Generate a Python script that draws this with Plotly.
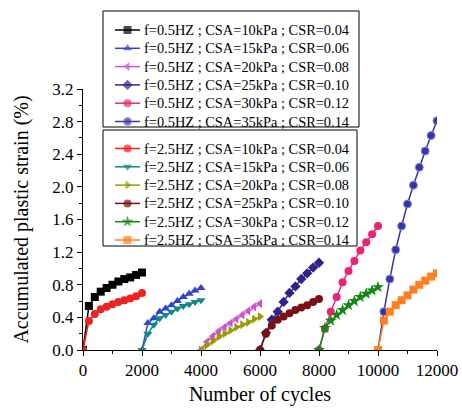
import plotly.graph_objects as go

# ---- data ----
cycle_steps = [0, 200, 400, 600, 800, 1000, 1200, 1400, 1600, 1800, 2000]
start_cycles = [0, 2000, 4000, 6000, 8000, 10000]

names_05 = [
    "f=0.5HZ ; CSA=10kPa ; CSR=0.04",
    "f=0.5HZ ; CSA=15kPa ; CSR=0.06",
    "f=0.5HZ ; CSA=20kPa ; CSR=0.08",
    "f=0.5HZ ; CSA=25kPa ; CSR=0.10",
    "f=0.5HZ ; CSA=30kPa ; CSR=0.12",
    "f=0.5HZ ; CSA=35kPa ; CSR=0.14",
]
names_25 = [
    "f=2.5HZ ; CSA=10kPa ; CSR=0.04",
    "f=2.5HZ ; CSA=15kPa ; CSR=0.06",
    "f=2.5HZ ; CSA=20kPa ; CSR=0.08",
    "f=2.5HZ ; CSA=25kPa ; CSR=0.10",
    "f=2.5HZ ; CSA=30kPa ; CSR=0.12",
    "f=2.5HZ ; CSA=35kPa ; CSR=0.14",
]

strain_05 = [
    [0, 0.54, 0.65, 0.715, 0.76, 0.80, 0.84, 0.87, 0.89, 0.92, 0.95],
    [0, 0.33, 0.39, 0.47, 0.51, 0.55, 0.60, 0.65, 0.69, 0.73, 0.76],
    [0, 0.10, 0.17, 0.23, 0.28, 0.33, 0.38, 0.43, 0.48, 0.53, 0.57],
    [0, 0.21, 0.37, 0.47, 0.59, 0.70, 0.78, 0.87, 0.94, 1.01, 1.07],
    [0, 0.26, 0.47, 0.65, 0.83, 0.97, 1.09, 1.22, 1.32, 1.42, 1.52],
    [0, 0.47, 0.87, 1.23, 1.52, 1.79, 2.02, 2.24, 2.44, 2.63, 2.81],
]
strain_25 = [
    [0, 0.355, 0.44, 0.50, 0.53, 0.56, 0.59, 0.61, 0.63, 0.66, 0.70],
    [0, 0.20, 0.31, 0.39, 0.43, 0.47, 0.51, 0.54, 0.56, 0.59, 0.61],
    [0, 0.06, 0.11, 0.16, 0.20, 0.24, 0.28, 0.31, 0.34, 0.38, 0.41],
    [0, 0.20, 0.30, 0.37, 0.41, 0.45, 0.49, 0.52, 0.55, 0.59, 0.625],
    [0, 0.27, 0.36, 0.43, 0.49, 0.55, 0.60, 0.65, 0.69, 0.73, 0.77],
    [0, 0.36, 0.47, 0.55, 0.61, 0.67, 0.74, 0.80, 0.85, 0.90, 0.94],
]

x_tickvals = [0, 2000, 4000, 6000, 8000, 10000, 12000]
x_ticktext = ["0", "2000", "4000", "6000", "8000", "10000", "12000"]

# ---- styles ----
colors_05 = ["#000000", "#3344cc", "#cc55cc", "#33228a", "#ee2277", "#3535aa"]
symbols_05 = ["square", "triangle-up", "triangle-left", "diamond", "circle", "circle"]
colors_25 = ["#ee2222", "#108888", "#999900", "#7a1010", "#118811", "#ff8020"]
symbols_25 = ["circle", "triangle-down", "triangle-right", "circle", "star", "square"]

FONT = "Liberation Serif, Times New Roman, serif"
W, H = 462, 408
ML, MR, MT, MB = 83, 25, 5, 58
PLOT_TOP = 89  # pixel row of the 3.2 gridline
PAPER_H = H - MT - MB

fig = go.Figure()


def marker_style(sym, col, special=False, size=None):
    if size is None:
        size = 9 if sym == "star" else 8
    m = dict(symbol=sym, size=size, color=col)
    m["line"] = dict(width=1, color="#8a8ae0") if special else dict(width=0)
    return m


for i in range(6):
    x = [start_cycles[i] + s for s in cycle_steps]
    fig.add_trace(go.Scatter(
        x=x, y=strain_05[i], name=names_05[i], mode="lines+markers",
        line=dict(color=colors_05[i], width=1.5),
        marker=marker_style(symbols_05[i], colors_05[i], i == 5),
        showlegend=False,
    ))
for i in range(6):
    x = [start_cycles[i] + s for s in cycle_steps]
    fig.add_trace(go.Scatter(
        x=x, y=strain_25[i], name=names_25[i], mode="lines+markers",
        line=dict(color=colors_25[i], width=1.5),
        marker=marker_style(symbols_25[i], colors_25[i]),
        showlegend=False,
    ))

# ---- custom legend boxes on a pixel-scaled overlay subplot ----
ROW = 18.3
boxes = [
    dict(x0=103, x1=359, y0=11, y1=127, first=30.0,
         names=names_05, colors=colors_05, symbols=symbols_05),
    dict(x0=103, x1=357, y0=130, y1=246, first=148.5,
         names=names_25, colors=colors_25, symbols=symbols_25),
]
shapes = []
annotations = []
for b_idx, b in enumerate(boxes):
    shapes.append(dict(type="rect", xref="x2", yref="y2",
                       x0=b["x0"], x1=b["x1"], y0=b["y0"], y1=b["y1"],
                       line=dict(color="black", width=1), fillcolor="rgba(0,0,0,0)"))
    for k in range(6):
        yc = b["first"] + k * ROW
        col = b["colors"][k]
        sym = b["symbols"][k]
        base = 9 if sym == "star" else 8
        fig.add_trace(go.Scatter(
            x=[115, 127.5, 140], y=[yc, yc, yc], xaxis="x2", yaxis="y2",
            mode="lines+markers", line=dict(color=col, width=1.5),
            marker=dict(symbol=sym, size=[0, base, 0], color=col,
                        line=dict(width=1, color="#8a8ae0") if (b_idx == 0 and k == 5) else dict(width=0)),
            showlegend=False, hoverinfo="skip",
        ))
        annotations.append(dict(text=b["names"][k], xref="x2", yref="y2",
                                x=142, y=yc, xanchor="left", yanchor="middle", showarrow=False,
                                font=dict(family=FONT, size=14.4, color="black")))

axis_common = dict(
    showline=True, linecolor="black", linewidth=1, mirror=False,
    ticks="outside", ticklen=5, tickcolor="black", showgrid=False, zeroline=False,
    tickfont=dict(family=FONT, size=17, color="black"), automargin=False,
)

fig.update_layout(
    xaxis=dict(
        range=[0, 12000], tickvals=x_tickvals, ticktext=x_ticktext,
        minor=dict(ticks="outside", ticklen=3, tickcolor="black", dtick=1000, tick0=0),
        title=dict(text="Number of cycles", font=dict(family=FONT, size=20, color="black"), standoff=7),
        **axis_common,
    ),
    yaxis=dict(
        range=[0, 3.2], dtick=0.4, tick0=0, tickformat=".1f",
        domain=[0, (H - MB - PLOT_TOP) / PAPER_H],
        minor=dict(ticks="outside", ticklen=3, tickcolor="black", dtick=0.2, tick0=0),
        title=dict(text="Accumulated plastic strain (%)", font=dict(family=FONT, size=20, color="black"), standoff=18),
        **axis_common,
    ),
    xaxis2=dict(domain=[0, 1], anchor="y2", range=[ML, W - MR], visible=False, fixedrange=True),
    yaxis2=dict(domain=[0, 1], anchor="x2", range=[H - MB, MT], visible=False, fixedrange=True),
    width=W, height=H,
    margin=dict(l=ML, r=MR, t=MT, b=MB),
    paper_bgcolor="white", plot_bgcolor="rgba(0,0,0,0)",
    showlegend=False,
    shapes=shapes, annotations=annotations,
)

fig.write_html("out.html")
